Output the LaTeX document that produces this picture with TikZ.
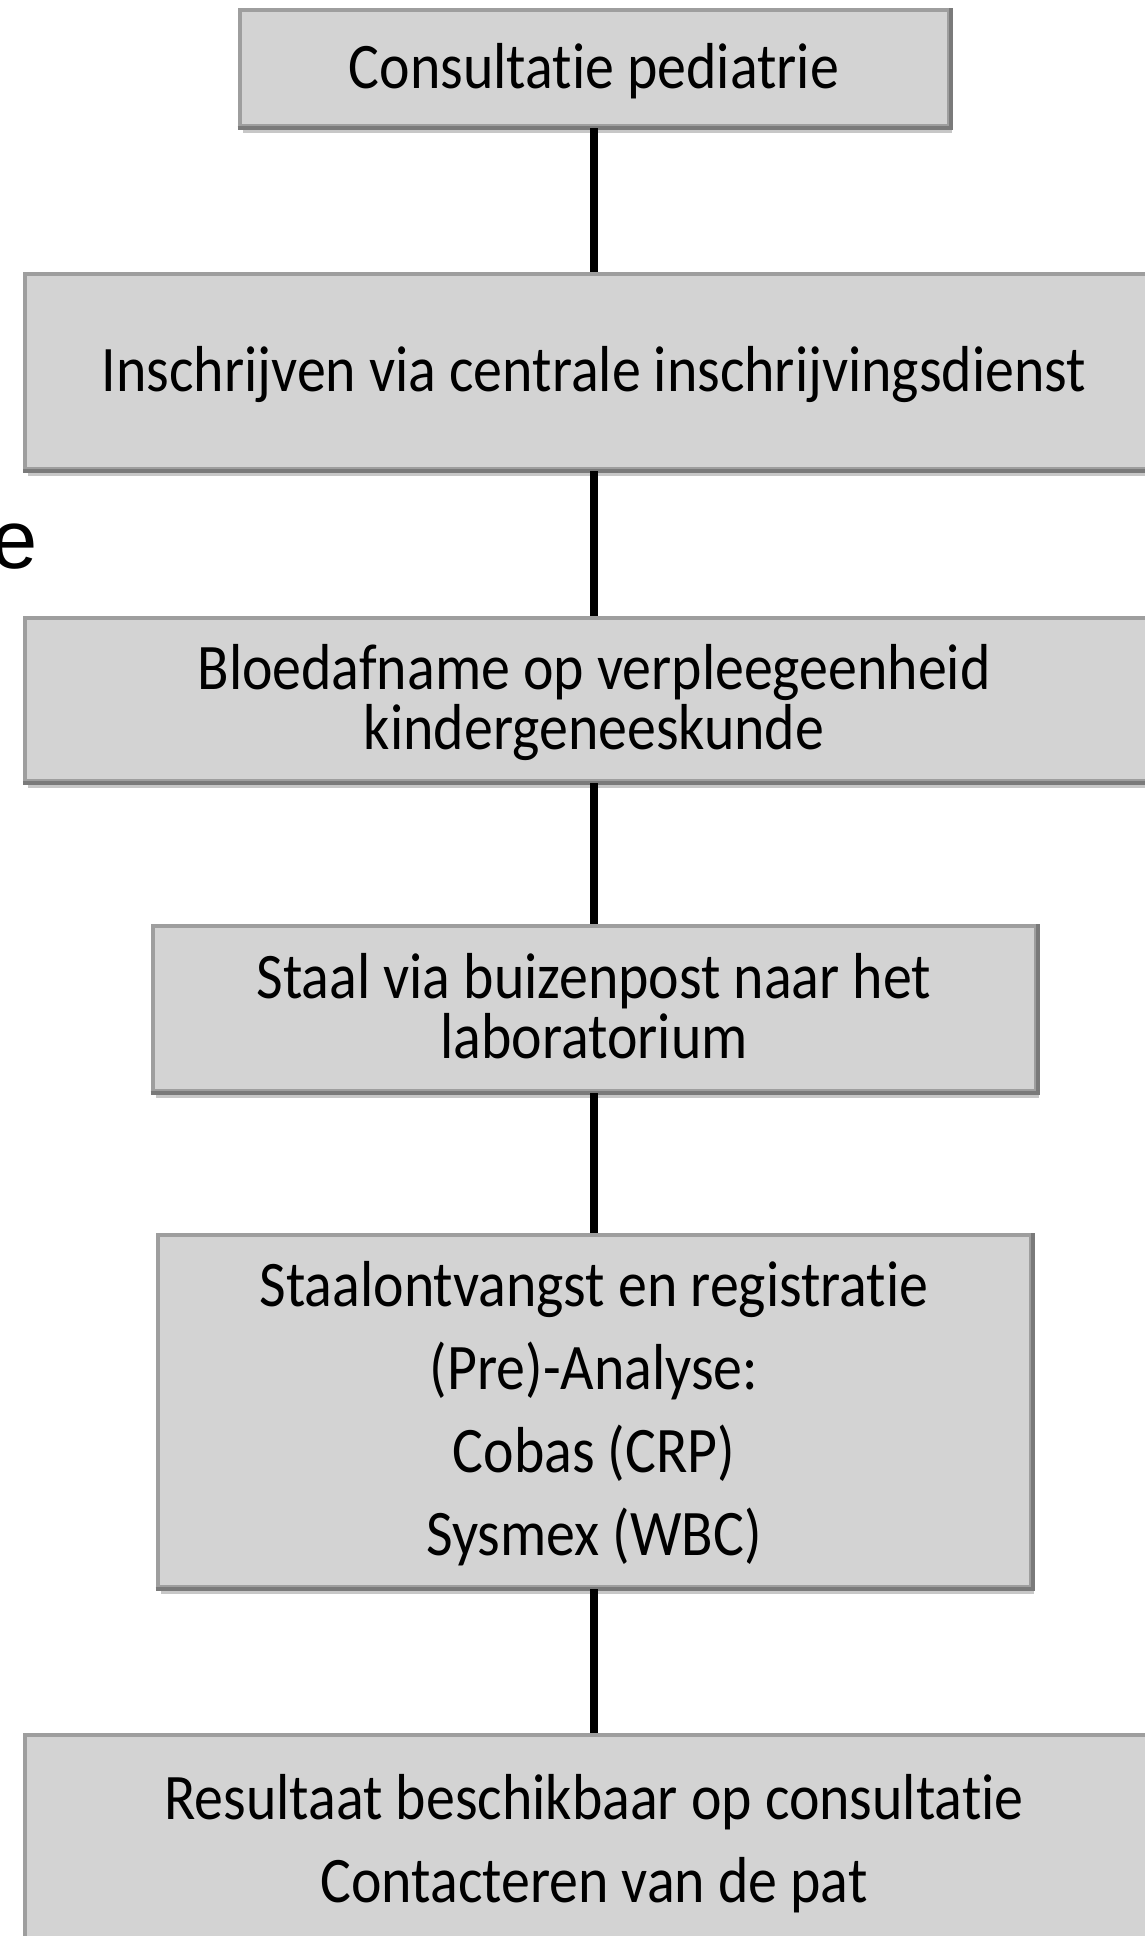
\documentclass[tikz,border=0pt]{standalone}
\usepackage{fontspec}
\setmainfont{Carlito}[FakeStretch=0.89,Ligatures=NoCommon]
\newfontfamily\arialfont{Liberation Sans}
\usetikzlibrary{shadows}
\definecolor{boxfill}{RGB}{211,211,211}
\definecolor{boxedge}{RGB}{158,158,158}
\definecolor{boxdark}{RGB}{122,122,122}
\begin{document}
\begin{tikzpicture}[x=1pt,y=-1pt,
  box/.style={rectangle, fill=boxfill, draw=boxedge, line width=4pt, inner sep=0pt,
    align=center, text depth=2pt, font=\fontsize{65}{60}\selectfont,
    drop shadow={shadow xshift=3pt, shadow yshift=-7pt, opacity=0.22, fill=black}},
  wide/.style={font=\fontsize{65}{83}\selectfont},
  link/.style={line width=8pt, black},
  dark/.style={boxdark, line width=4pt}]
\useasboundingbox (0,0) rectangle (1145,1936);

\node[box, minimum width=709pt, minimum height=116pt, text height=42pt] (b1) at (594,68) {Consultatie pediatrie};
\node[box, minimum width=1138pt, minimum height=195pt, text height=42pt] (b2) at (594,371.5) {Inschrijven via centrale inschrijvingsdienst};
\node[box, minimum width=1138pt, minimum height=163pt, text height=102pt] (b3) at (594,699.5) {Bloedafname op verpleegeenheid\\kindergeneeskunde};
\node[box, minimum width=883pt, minimum height=165pt, text height=102pt] (b4) at (594,1008.5) {Staal via buizenpost naar het\\laboratorium};
\node[box, wide, minimum width=873pt, minimum height=352pt, text height=291pt] (b5) at (594,1411) {Staalontvangst en registratie\\(Pre)-Analyse:\\Cobas (CRP)\\Sysmex (WBC)};
\node[box, wide, minimum width=1138pt, minimum height=240pt, text height=126pt, text depth=32pt] (b6) at (594,1855) {Resultaat beschikbaar op consultatie\\Contacteren van de pat};

\foreach \b in {b1,b2,b3,b4,b5,b6}{
  \draw[dark] (\b.south west) -- (\b.south east) -- (\b.north east);
}

\draw[link] (b1.south) -- (b2.north);
\draw[link] (b2.south) -- (b3.north);
\draw[link] (b3.south) -- (b4.north);
\draw[link] (b4.south) -- (b5.north);
\draw[link] (b5.south) -- (b6.north);

\node[anchor=base west, inner sep=0pt, font=\arialfont\fontsize{83}{83}\selectfont] (e) at (-9,568) {e};
\end{tikzpicture}
\end{document}
